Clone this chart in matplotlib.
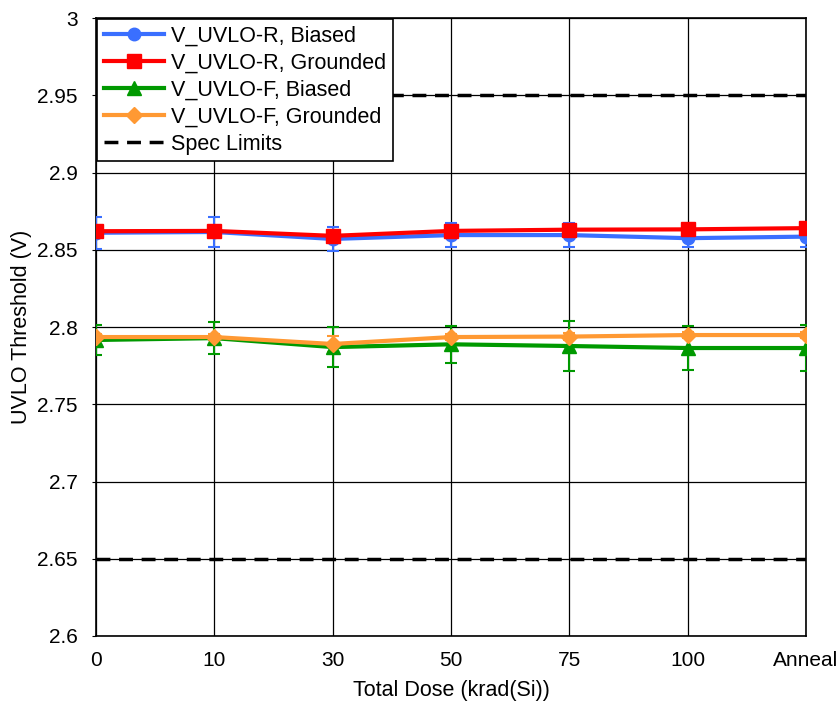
import matplotlib.pyplot as plt
import numpy as np

plt.rcParams['font.family'] = ['Liberation Sans', 'DejaVu Sans']

# Dose steps (krad(Si)) plus post-anneal reading
dose_labels = ['0', '10', '30', '50', '75', '100', 'Anneal']

# UVLO thresholds (V), mean of units at each step
r_biased = [2.8610, 2.8615, 2.8570, 2.8595, 2.8595, 2.8575, 2.8585]
r_biased_err = [0.0105, 0.0095, 0.0080, 0.0078, 0.0078, 0.0060, 0.0065]
r_grounded = [2.8620, 2.8622, 2.8590, 2.8622, 2.8630, 2.8632, 2.8640]
r_grounded_err = [0.0020, 0.0020, 0.0020, 0.0020, 0.0020, 0.0020, 0.0020]
f_biased = [2.7916, 2.7928, 2.7870, 2.7888, 2.7877, 2.7864, 2.7864]
f_biased_err = [0.0100, 0.0104, 0.0130, 0.0120, 0.0160, 0.0140, 0.0150]
f_grounded = [2.7935, 2.7935, 2.7890, 2.7935, 2.7938, 2.7948, 2.7948]
f_grounded_err = [0.0020, 0.0020, 0.0050, 0.0020, 0.0020, 0.0020, 0.0020]

spec_limits = [2.95, 2.65]

x = np.arange(len(dose_labels))

fig = plt.figure(figsize=(8.38, 7.04), dpi=100)
ax = fig.add_axes([0.1146, 0.0966, 0.8472, 0.8778])

series = [
    (r_biased, r_biased_err, '#3a6fff', 'o', 9, 'V_UVLO-R, Biased'),
    (r_grounded, r_grounded_err, '#ff0000', 's', 10, 'V_UVLO-R, Grounded'),
    (f_biased, f_biased_err, '#009900', '^', 10, 'V_UVLO-F, Biased'),
    (f_grounded, f_grounded_err, '#ff9933', 'D', 8, 'V_UVLO-F, Grounded'),
]
handles = []
for k, (vals, err, color, marker, ms, label) in enumerate(series):
    ax.errorbar(x, vals, yerr=err, fmt='none', ecolor=color, elinewidth=1.5,
                capsize=4.5, capthick=1.5, zorder=3)
    h, = ax.plot(x, vals, color=color, marker=marker, markersize=ms,
                 linewidth=3, label=label, zorder=4 + k)
    handles.append(h)

for i, lim in enumerate(spec_limits):
    h, = ax.plot([x[0], x[-1]], [lim, lim], color='black',
                 linestyle=(0, (4, 2.5)), linewidth=2.5, zorder=2)
    if i == 0:
        handles.append(h)

ax.set_xlim(0, len(dose_labels) - 1)
ax.set_ylim(2.6, 3.0)
ax.set_xticks(x)
ax.set_xticklabels(dose_labels)
yt = np.arange(2.6, 3.001, 0.05)
ax.set_yticks(yt)
ax.set_yticklabels(['%g' % round(v, 2) for v in yt])
ax.tick_params(labelsize=15, length=3, color='black')
ax.tick_params(axis='y', pad=10)
ax.tick_params(axis='x', length=0, pad=11)
ax.grid(True, color='black', linewidth=0.9)
for s in ax.spines.values():
    s.set_linewidth(1.2)

ax.set_xlabel('Total Dose (krad(Si))', fontsize=15.5, labelpad=7)
ax.set_ylabel('UVLO Threshold (V)', fontsize=15.5, labelpad=4)

leg = ax.legend(handles, [s[5] for s in series] + ['Spec Limits'],
                loc='upper left', fontsize=15.5, fancybox=False, framealpha=1,
                edgecolor='black', borderaxespad=0.05, handlelength=2.8,
                borderpad=0.3, labelspacing=0.28, handletextpad=0.35)
leg.get_frame().set_linewidth(1.2)
leg.set_zorder(10)

fig.savefig('out.png', dpi=100)
